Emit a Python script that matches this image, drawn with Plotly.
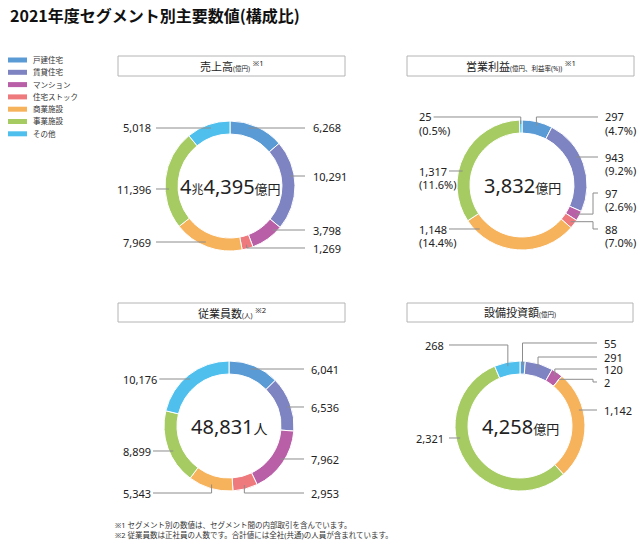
import math
import plotly.graph_objects as go

W, H = 643, 548

# ---------------- data ----------------
categories = ["戸建住宅", "賃貸住宅", "マンション", "住宅ストック", "商業施設", "事業施設", "その他"]
colors = ["#5B9BD5", "#7D84C1", "#B95FA7", "#EE7A7E", "#F7B25C", "#A6CB62", "#4FC0EE"]

sales_values = [6268, 10291, 3798, 1269, 7969, 11396, 5018]          # 億円
sales_total = 44395                                                  # 億円
op_income_values = [297, 943, 97, 88, 1148, 1317, 25]                # 億円
op_margin_pct = [4.7, 9.2, 2.6, 7.0, 14.4, 11.6, 0.5]                # %
op_income_total = 3832
employees_values = [6041, 6536, 7962, 2953, 5343, 8899, 10176]       # 人
employees_total = 48831
capex_values = [55, 291, 120, 2, 1142, 2321, 268]                    # 億円
capex_total = 4258

title_text = "2021年度セグメント別主要数値(構成比)"
footnotes = ["※1 セグメント別の数値は、セグメント間の内部取引を含んでいます。",
             "※2 従業員数は正社員の人数です。合計値には全社(共通)の人員が含まれています。"]

# ---------------- layout constants (pixels) ----------------
FONT = "Noto Sans, Noto Sans CJK JP, sans-serif"
R_OUT = 65
HOLE = 0.8
R_ANCHOR = 61
LINE_COLOR = "#8c8c8c"
TEXT_COLOR = "#222222"

panels = [
    dict(name="sales", values=sales_values, cx=230, cy=186,
         box=(118, 56, 345, 76),
         head="売上高", unit="(億円)", note="※1",
         label_y=[128, 176, 230, 248, 242, 189, 128],
         side=["R", "R", "R", "R", "L", "L", "L"],
         elbow_x=[None] * 7,
         left_mode="right", left_x=153, right_line=305, right_text=311),
    dict(name="op", values=op_income_values, cx=522, cy=185,
         box=(407, 56, 634, 76),
         head="営業利益", unit="(億円、利益率(%))", note="※1",
         label_y=[117, 157, 193, 229, 229, 171, 117],
         side=["R", "R", "R", "R", "L", "L", "L"],
         elbow_x=[None, None, 593, 593, None, None, None],
         left_mode="left", left_x=417, right_line=598, right_text=603),
    dict(name="emp", values=employees_values, cx=229, cy=426,
         box=(118, 303, 345, 322),
         head="従業員数", unit="(人)", note="※2",
         label_y=[369, 407, 459, 493, 493, 451, 379],
         side=["R", "R", "R", "R", "L", "L", "L"],
         elbow_x=[None] * 7,
         left_mode="left", left_x=121, right_line=304, right_text=309),
    dict(name="capex", values=capex_values, cx=520, cy=426,
         box=(407, 303, 633, 322),
         head="設備投資額", unit="(億円)", note="",
         label_y=[343, 357, 369, 382, 410, 438, 345],
         side=["R", "R", "R", "R", "R", "L", "L"],
         elbow_x=[None, None, None, 593, None, None, None],
         left_mode="right", left_x=446, right_line=597, right_text=602),
]

LABEL_SIZE = 11


def px(x):
    return x / W


def py(y):
    return 1 - y / H


def text_width(s, size):
    w = 0.0
    for ch in s:
        if ch.isdigit():
            w += 0.572
        elif ch in ",.":
            w += 0.26
        elif ch in "()":
            w += 0.30
        elif ch == "%":
            w += 0.85
        else:
            w += 1.0
    return w * size


fig = go.Figure()
shapes = []
annotations = []

center_texts = {
    "sales": f"{sales_total // 10000}<span style='font-size:12px'>兆</span>{sales_total % 10000:,}"
             f"<span style='font-size:13px'>億円</span>",
    "op": f"{op_income_total:,}<span style='font-size:13px'>億円</span>",
    "emp": f"{employees_total:,}<span style='font-size:14px'>人</span>",
    "capex": f"{capex_total:,}<span style='font-size:13px'>億円</span>",
}

for p in panels:
    cx, cy = p["cx"], p["cy"]
    vals = p["values"]
    fig.add_trace(go.Pie(
        values=vals, labels=categories, sort=False, direction="clockwise", rotation=0,
        hole=HOLE, textinfo="none", hoverinfo="label+value",
        marker=dict(colors=colors, line=dict(color="white", width=1)),
        domain=dict(x=[px(cx - R_OUT), px(cx + R_OUT)], y=[py(cy + R_OUT), py(cy - R_OUT)]),
        showlegend=False,
    ))

    # panel title box
    x0, y0, x1, y1 = p["box"]
    shapes.append(dict(type="rect", xref="paper", yref="paper",
                       x0=px(x0), x1=px(x1), y0=py(y1), y1=py(y0),
                       line=dict(color="#b4b4b4", width=1), fillcolor="white", layer="below"))
    head = f"{p['head']}<span style='font-size:6.5px'>{p['unit']}</span>"
    if p["note"]:
        head += f"<span style='font-size:11px'> <sup>{p['note']}</sup></span>"
    annotations.append(dict(xref="paper", yref="paper", x=px((x0 + x1) / 2), y=py((y0 + y1) / 2),
                            text=head, showarrow=False, xanchor="center", yanchor="middle",
                            font=dict(family=FONT, size=11, color=TEXT_COLOR)))

    # centre total
    annotations.append(dict(xref="paper", yref="paper", x=px(cx), y=py(cy), text=center_texts[p["name"]],
                            showarrow=False, xanchor="center", yanchor="middle",
                            font=dict(family=FONT, size=20, color=TEXT_COLOR)))

    # slice angles
    total = sum(vals)
    cum = 0.0
    for i, v in enumerate(vals):
        a0 = cum / total * 360
        cum += v
        a1 = cum / total * 360
        am = (a0 + a1) / 2
        ly = p["label_y"][i]
        side = p["side"][i]

        num = f"{v:,}"
        if p["name"] == "op":
            lines = [num, f"({op_margin_pct[i]:.1f}%)"]
        else:
            lines = [num]

        if side == "R":
            line_x = p["right_line"]
            tx, anchor = p["right_text"], "left"
        else:
            if p["left_mode"] == "right":
                tx, anchor = p["left_x"], "right"
                line_x = tx + 3
            else:
                tx, anchor = p["left_x"], "left"
                line_x = tx + text_width(num, LABEL_SIZE) + 4

        for k, t in enumerate(lines):
            annotations.append(dict(xref="paper", yref="paper", x=px(tx), y=py(ly + 13 * k), text=t,
                                    showarrow=False, xanchor=anchor, yanchor="middle",
                                    font=dict(family=FONT, size=LABEL_SIZE, color=TEXT_COLOR)))

        # leader line
        c = (cy - ly) / R_ANCHOR
        pts = None
        if abs(c) <= 1:
            th = math.degrees(math.acos(c))
            if side == "L":
                th = 360 - th
            if a0 <= th <= a1:
                xi = cx + R_ANCHOR * math.sin(math.radians(th))
                pts = [(line_x, ly), (xi, ly)]
        if pts is None:
            ax = cx + R_ANCHOR * math.sin(math.radians(am))
            ay = cy - R_ANCHOR * math.cos(math.radians(am))
            ex = p["elbow_x"][i] if p["elbow_x"][i] is not None else ax
            pts = [(ax, ay), (ex, ay), (ex, ly), (line_x, ly)]
        path = "M " + " L ".join(f"{px(x):.5f},{py(y):.5f}" for x, y in pts)
        shapes.append(dict(type="path", xref="paper", yref="paper", path=path,
                           line=dict(color=LINE_COLOR, width=1)))

# legend
LEG_Y0, LEG_DY = 60, 12.3
for i, (cat, col) in enumerate(zip(categories, colors)):
    y = LEG_Y0 + LEG_DY * i
    shapes.append(dict(type="rect", xref="paper", yref="paper",
                       x0=px(8), x1=px(27), y0=py(y + 2.5), y1=py(y - 2.5),
                       line=dict(width=0), fillcolor=col))
    annotations.append(dict(xref="paper", yref="paper", x=px(31), y=py(y), text=cat, showarrow=False,
                            xanchor="left", yanchor="middle",
                            font=dict(family=FONT, size=7.5, color="#333333")))

# title
annotations.append(dict(xref="paper", yref="paper", x=px(8), y=py(15), text=f"<b>{title_text}</b>",
                        showarrow=False, xanchor="left", yanchor="middle",
                        font=dict(family="Noto Sans CJK JP", size=16, color="#111111")))

# footnotes
for k, t in enumerate(footnotes):
    annotations.append(dict(xref="paper", yref="paper", x=px(113), y=py(525 + 9.5 * k), text=t,
                            showarrow=False, xanchor="left", yanchor="middle",
                            font=dict(family=FONT, size=7.5, color="#333333")))

fig.update_layout(width=W, height=H, margin=dict(l=0, r=0, t=0, b=0),
                  paper_bgcolor="white", plot_bgcolor="white",
                  shapes=shapes, annotations=annotations, showlegend=False)

fig.write_html("out.html", config={"displayModeBar": False},
               post_script="document.body.style.margin='0';document.body.style.overflow='hidden';")
